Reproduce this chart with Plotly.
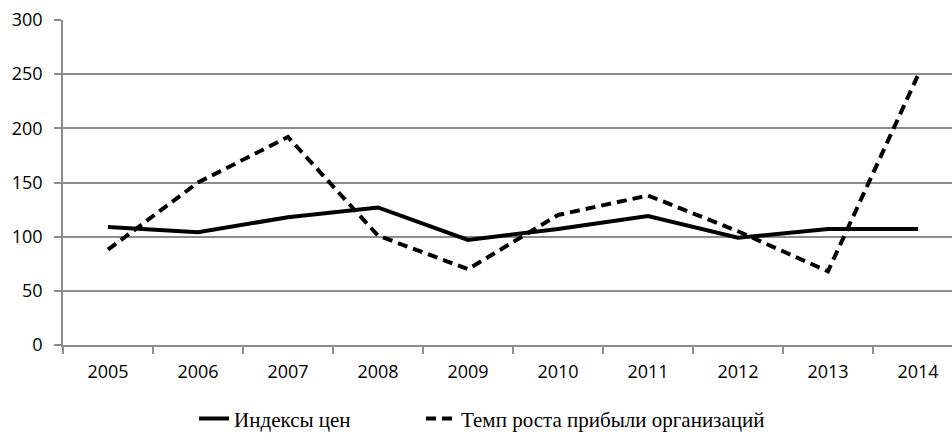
import plotly.graph_objects as go

years = ["2005", "2006", "2007", "2008", "2009", "2010", "2011", "2012", "2013", "2014"]
price_index = [109, 104, 118, 127, 97, 107, 119, 99, 107, 107]
profit_growth = [88, 150, 192, 101, 70, 120, 138, 105, 68, 249]
y_ticks = [0, 50, 100, 150, 200, 250, 300]

fig = go.Figure()
fig.add_trace(go.Scatter(x=years, y=price_index, mode="lines", name="Индексы цен",
                         line=dict(color="black", width=4), legend="legend"))
fig.add_trace(go.Scatter(x=years, y=profit_growth, mode="lines", name="Темп роста прибыли организаций",
                         line=dict(color="black", width=4, dash="10px,6px"), legend="legend2"))

grid = "#8c8c8c"
legfont = dict(family="Liberation Serif", size=21, color="black")
fig.update_layout(
    width=952, height=440,
    margin=dict(l=63, r=0, t=20, b=86),
    paper_bgcolor="white", plot_bgcolor="white",
    showlegend=True,
    legend=dict(orientation="h", x=0.1474, xanchor="left", y=-0.2275, yanchor="middle",
                font=legfont, bgcolor="rgba(0,0,0,0)"),
    legend2=dict(orientation="h", x=0.4027, xanchor="left", y=-0.2275, yanchor="middle",
                 font=legfont, bgcolor="rgba(0,0,0,0)"),
    font=dict(family="Open Sans", size=18, color="black"),
)
fig.update_xaxes(type="category", range=[-0.5, 9.378], tickson="boundaries",
                 ticks="outside", ticklen=7, tickcolor=grid, tickwidth=1.5,
                 showline=True, linecolor=grid, linewidth=1.5, showgrid=False,
                 automargin=False, ticklabelstandoff=10, ticklabeloverflow="allow",
                 tickfont=dict(family="Open Sans", size=18, color="black"))
fig.update_yaxes(range=[0, 300], tickvals=y_ticks, ticks="outside", ticklen=7,
                 tickcolor=grid, tickwidth=1.5, showline=True, linecolor=grid, linewidth=1.5,
                 showgrid=True, gridcolor=grid, gridwidth=1.5, zeroline=False,
                 automargin=False, ticklabelstandoff=8, ticklabeloverflow="allow",
                 tickfont=dict(family="Open Sans", size=18, color="black"))

fig.write_html("out.html",
               config={"displayModeBar": False},
               post_script="document.body.style.margin='0';document.body.style.overflow='hidden';")
